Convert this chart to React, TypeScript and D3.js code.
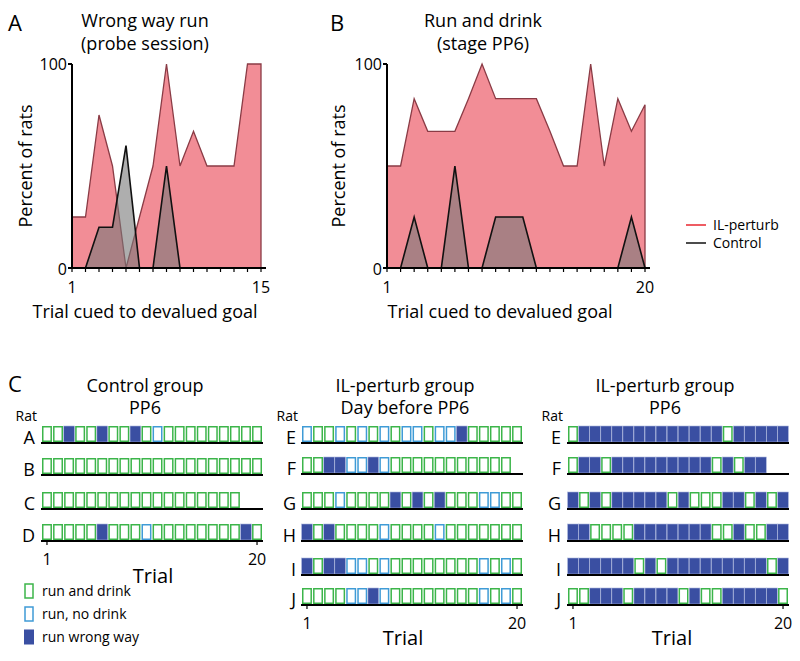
import React from "react";
import * as d3 from "d3";

// ---------- Data ----------
const trialsA = d3.range(1, 16);
const ilA = [25, 25, 75, 50, 0, 25, 50, 100, 50, 67, 50, 50, 50, 100, 100];
const ctlA = [0, 0, 20, 20, 60, 0, 0, 50, 0, 0, 0, 0, 0, 0, 0];

const trialsB = d3.range(1, 21);
const ilB = [50, 50, 83, 67, 67, 67, 83, 100, 83, 83, 83, 83, 67, 50, 50, 100, 50, 83, 67, 80];
const ctlB = [0, 0, 25, 0, 0, 50, 0, 0, 25, 25, 25, 0, 0, 0, 0, 0, 0, 0, 25, 0];

// 0 = run and drink, 1 = run no drink, 2 = run wrong way
const controlRats = ["A", "B", "C", "D"];
const controlPP6 = [
  [0, 0, 2, 0, 0, 2, 0, 0, 2, 0, 1, 0, 0, 0, 0, 0, 0, 0, 0, 0],
  [0, 0, 0, 0, 0, 0, 0, 0, 0, 0, 0, 0, 0, 0, 0, 0, 0, 0, 0, 0],
  [0, 0, 0, 0, 0, 0, 0, 0, 0, 0, 0, 0, 0, 0, 0, 0, 0, 0],
  [0, 0, 0, 0, 0, 2, 0, 0, 0, 1, 0, 0, 0, 0, 0, 0, 0, 0, 2, 0],
];
const ilRats = ["E", "F", "G", "H", "I", "J"];
const ilDayBefore = [
  [1, 0, 0, 1, 0, 1, 0, 1, 0, 1, 1, 0, 1, 1, 2, 0, 0, 0, 0, 0],
  [0, 0, 2, 2, 1, 1, 2, 1, 0, 0, 0, 0, 0, 0, 0, 0, 0, 0, 0],
  [0, 0, 0, 1, 0, 0, 0, 0, 2, 0, 2, 0, 2, 0, 0, 0, 1, 1, 0, 0],
  [2, 0, 2, 0, 0, 0, 0, 1, 0, 0, 0, 0, 1, 0, 0, 0, 0, 0, 0, 0],
  [2, 0, 2, 2, 1, 1, 0, 1, 0, 0, 0, 0, 0, 0, 0, 0, 1, 0, 1, 0],
  [0, 0, 0, 0, 1, 1, 2, 1, 0, 0, 0, 0, 0, 0, 0, 0, 1, 0, 1, 0],
];
const ilPP6 = [
  [0, 2, 2, 2, 2, 2, 2, 2, 2, 2, 2, 2, 2, 2, 0, 2, 2, 2, 2, 2],
  [0, 2, 2, 0, 2, 2, 2, 2, 2, 2, 2, 2, 2, 0, 2, 0, 2, 2],
  [2, 0, 2, 0, 2, 2, 2, 2, 2, 0, 2, 0, 0, 0, 2, 2, 0, 2, 0, 2],
  [2, 2, 0, 0, 0, 0, 2, 2, 2, 2, 2, 2, 2, 0, 0, 2, 0, 0, 2, 2],
  [2, 2, 2, 2, 2, 2, 0, 2, 0, 2, 2, 2, 2, 2, 2, 2, 2, 2, 0, 2],
  [0, 0, 2, 2, 2, 0, 2, 2, 2, 2, 0, 2, 0, 0, 2, 2, 2, 2, 2, 0],
];
const legendLabels = ["run and drink", "run, no drink", "run wrong way"];
const seriesLabels = ["IL-perturb", "Control"];

// ---------- Styles ----------
const FONT = "'Open Sans', 'Noto Sans', sans-serif";
const RED_FILL = "#f28d96";
const RED_STROKE = "#8a3b45";
const CTL_FILL = "rgba(120,120,120,0.6)";
const GREEN = "#3cb54a";
const BLUE = "#3f9bd6";
const NAVY = "#3a4fa2";
const NAVY_GAP = "#aab5dc";

function AreaPanel({ trials, il, ctl, x0, x1, maxLabel }: any) {
  const x = d3.scaleLinear().domain([1, trials.length]).range([x0, x1]);
  const y = d3.scaleLinear().domain([0, 100]).range([268, 64]);
  const area = d3
    .area<number>()
    .x((_, i) => x(trials[i]))
    .y0(y(0))
    .y1((d) => y(d));
  const line = d3
    .line<number>()
    .x((_, i) => x(trials[i]))
    .y((d) => y(d));
  const ilPts: [number, number][] = il.map((d: number, i: number) => [x(trials[i]), y(d)]);
  const redPoly =
    `M${x(trials[0])},${y(0)}` +
    ilPts.map((p) => `L${p[0]},${p[1]}`).join("") +
    `L${x(trials[trials.length - 1])},${y(0)}Z`;
  return (
    <g>
      <path d={area(il) || ""} fill={RED_FILL} stroke="none" />
      <path d={redPoly} fill="none" stroke={RED_STROKE} strokeWidth={1.3} />
      <path d={area(ctl) || ""} fill={CTL_FILL} stroke="none" />
      <path d={line(ctl) || ""} fill="none" stroke="#111" strokeWidth={1.6} />
      {/* axes */}
      <line x1={x0} x2={x0} y1={y(100)} y2={y(0)} stroke="#000" strokeWidth={2} />
      <line x1={x0 - 4} x2={x0} y1={y(100)} y2={y(100)} stroke="#000" strokeWidth={2} />
      <line x1={x0 - 4} x2={x1 + 5} y1={y(0)} y2={y(0)} stroke="#000" strokeWidth={2} />
      {trials.map((t: number) => (
        <line key={t} x1={x(t)} x2={x(t)} y1={y(0)} y2={y(0) + 4} stroke="#000" strokeWidth={1.2} />
      ))}
      <text x={x0 - 5} y={y(100) + 6} textAnchor="end" fontSize={16}>100</text>
      <text x={x0 - 5} y={y(0) + 7} textAnchor="end" fontSize={16}>0</text>
      <text x={x(1)} y={293} textAnchor="middle" fontSize={16}>1</text>
      <text x={x(trials.length)} y={293} textAnchor="middle" fontSize={16}>{maxLabel}</text>
    </g>
  );
}

function Grid({ rats, rows, x0, baselines, labelX, axisLabelY, trialLabelY, trialX }: any) {
  const xb = d3.scaleBand<number>().domain(d3.range(1, 21)).range([x0, x0 + 220]).paddingInner(0.1);
  const h = 16;
  const last = baselines[baselines.length - 1];
  const w = xb.bandwidth();
  return (
    <g>
      <text x={labelX + 2} y={421} textAnchor="end" fontSize={14}>Rat</text>
      {rows.map((row: number[], ri: number) => {
        const by = baselines[ri];
        return (
          <g key={ri}>
            <text x={labelX} y={by + 1} textAnchor="end" fontSize={18}>{rats[ri]}</text>
            {row.map((c, ti) => {
              const bx = xb(ti + 1)!;
              if (c === 2)
                return (
                  <rect key={ti} x={bx - 0.4} y={by - h - 1} width={w + 0.8} height={h}
                    fill={NAVY} stroke={NAVY_GAP} strokeWidth={0.6} />
                );
              return (
                <rect
                  key={ti}
                  x={bx + 0.75}
                  y={by - h - 0.25}
                  width={w - 1.5}
                  height={h - 1.5}
                  fill="#fff"
                  stroke={c === 0 ? GREEN : BLUE}
                  strokeWidth={1.5}
                />
              );
            })}
            <line x1={x0 - 1} x2={x0 + 221} y1={by} y2={by} stroke="#000" strokeWidth={2} />
          </g>
        );
      })}
      <g>
        {[1, 20].map((t) => (
          <g key={t}>
            <line
              x1={xb(t)! + w / 2}
              x2={xb(t)! + w / 2}
              y1={last}
              y2={last + 4}
              stroke="#000"
              strokeWidth={1.2}
            />
            <text x={xb(t)! + w / 2} y={axisLabelY} textAnchor="middle" fontSize={16}>
              {t}
            </text>
          </g>
        ))}
        <text x={trialX} y={trialLabelY} textAnchor="middle" fontSize={20}>Trial</text>
      </g>
    </g>
  );
}

export default function App() {
  return (
    <svg
      width={800}
      height={661}
      style={{ position: "absolute", left: 0, top: 0, background: "#fff" }}
      fontFamily={FONT}
    >
      <rect width={800} height={661} fill="#fff" />
      {/* Panel A */}
      <text x={8} y={31} fontSize={22}>A</text>
      <text x={145} y={27} textAnchor="middle" fontSize={18}>Wrong way run</text>
      <text x={145} y={50} textAnchor="middle" fontSize={18}>(probe session)</text>
      <text transform="translate(32,166) rotate(-90)" textAnchor="middle" fontSize={18}>Percent of rats</text>
      <AreaPanel trials={trialsA} il={ilA} ctl={ctlA} x0={72} x1={261} maxLabel="15" />
      <text x={145} y={318} textAnchor="middle" fontSize={18}>Trial cued to devalued goal</text>

      {/* Panel B */}
      <text x={330} y={31} fontSize={22}>B</text>
      <text x={483} y={27} textAnchor="middle" fontSize={18}>Run and drink</text>
      <text x={483} y={50} textAnchor="middle" fontSize={18}>(stage PP6)</text>
      <text transform="translate(345,166) rotate(-90)" textAnchor="middle" fontSize={18}>Percent of rats</text>
      <AreaPanel trials={trialsB} il={ilB} ctl={ctlB} x0={387} x1={645} maxLabel="20" />
      <text x={500} y={318} textAnchor="middle" fontSize={18}>Trial cued to devalued goal</text>

      {/* Legend */}
      <line x1={686} x2={706} y1={225} y2={225} stroke="#e8262f" strokeWidth={1.5} />
      <text x={713} y={230} fontSize={14}>{seriesLabels[0]}</text>
      <line x1={686} x2={706} y1={243} y2={243} stroke="#111" strokeWidth={1.5} />
      <text x={713} y={248} fontSize={14}>{seriesLabels[1]}</text>

      {/* Panel C */}
      <text x={8} y={392} fontSize={22}>C</text>
      <text x={145} y={392} textAnchor="middle" fontSize={18}>Control group</text>
      <text x={145} y={414} textAnchor="middle" fontSize={18}>PP6</text>
      <text x={405} y={392} textAnchor="middle" fontSize={18}>IL-perturb group</text>
      <text x={405} y={414} textAnchor="middle" fontSize={18}>Day before PP6</text>
      <text x={665} y={392} textAnchor="middle" fontSize={18}>IL-perturb group</text>
      <text x={665} y={414} textAnchor="middle" fontSize={18}>PP6</text>

      <Grid
        rats={controlRats}
        rows={controlPP6}
        x0={42}
        baselines={[443, 475, 509, 541]}
        labelX={35}
        axisLabelY={565}
        trialLabelY={583}
        trialX={153}
      />
      <Grid
        rats={ilRats}
        rows={ilDayBefore}
        x0={302}
        baselines={[443, 474, 509, 541, 575, 605]}
        labelX={296}
        axisLabelY={629}
        trialLabelY={645}
        trialX={403}
      />
      <Grid
        rats={ilRats}
        rows={ilPP6}
        x0={568}
        baselines={[443, 474, 509, 541, 575, 605]}
        labelX={561}
        axisLabelY={629}
        trialLabelY={645}
        trialX={672}
      />

      {/* Grid legend */}
      {legendLabels.map((l, i) => {
        const yy = 584 + i * 23;
        return (
          <g key={l}>
            {i < 2 ? (
              <rect x={25} y={yy} width={8} height={14} fill="#fff" stroke={i === 0 ? GREEN : BLUE} strokeWidth={1.5} />
            ) : (
              <rect x={24} y={yy - 0.5} width={10} height={15} fill={NAVY} />
            )}
            <text x={42} y={yy + 12} fontSize={14}>{l}</text>
          </g>
        );
      })}
    </svg>
  );
}
